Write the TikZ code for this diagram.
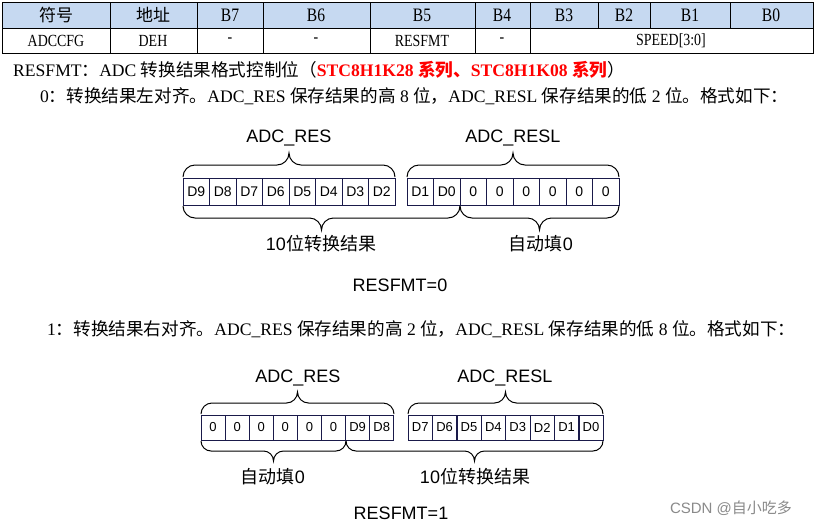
\documentclass[tikz,border=0pt]{standalone}
\usepackage{fontspec}
\setmainfont{Liberation Serif}
\newfontfamily\cjk{Noto Sans CJK SC}
\newfontfamily\arial{Liberation Sans}
\newfontfamily\tabfont[FakeStretch=0.82]{Liberation Serif}
\definecolor{hdr}{HTML}{C6D9F1}
\definecolor{cellline}{HTML}{1A1A4A}
\definecolor{wm}{HTML}{8A8A8A}
\newcommand\bracedraw[5]{% x0, x1, yend, r, sign (+1 down, -1 up)
  \draw[bracestyle] (#1,#3)
    .. controls (#1,{#3+0.55*#5*#4}) and ({#1+0.45*#4},{#3+#5*#4}) .. ({#1+#4},{#3+#5*#4})
    -- ({(#1+#2)/2-#4},{#3+#5*#4})
    .. controls ({(#1+#2)/2-0.45*#4},{#3+#5*#4}) and ({(#1+#2)/2},{#3+1.45*#5*#4}) .. ({(#1+#2)/2},{#3+2*#5*#4})
    .. controls ({(#1+#2)/2},{#3+1.45*#5*#4}) and ({(#1+#2)/2+0.45*#4},{#3+#5*#4}) .. ({(#1+#2)/2+#4},{#3+#5*#4})
    -- ({#2-#4},{#3+#5*#4})
    .. controls ({#2-0.45*#4},{#3+#5*#4}) and (#2,{#3+0.55*#5*#4}) .. (#2,#3);}
\begin{document}
\begin{tikzpicture}[x=1pt,y=-1pt,
  tabline/.style={line width=0.9pt,black},
  hdrtext/.style={font=\tabfont\fontsize{19}{19}\selectfont,inner sep=0pt},
  rowtext/.style={font=\tabfont\fontsize{17}{17}\selectfont,inner sep=0pt},
  linetext/.style={font=\fontsize{17.6}{17.6}\selectfont,inner sep=0pt,anchor=base west},
  cellA/.style={draw=cellline,line width=0.8pt,minimum width=26.5pt,minimum height=27pt,inner sep=0pt,font=\arial\fontsize{14}{14}\selectfont},
  cellB/.style={draw=cellline,line width=0.8pt,minimum width=24.2pt,minimum height=25pt,inner sep=0pt,font=\arial\fontsize{13}{13}\selectfont},
  bigtext/.style={font=\arial\fontsize{18}{18}\selectfont,inner sep=0pt},
  bracestyle/.style={line width=1pt,black}]
\useasboundingbox (0,0) rectangle (815,528);
\fill[white] (0,0) rectangle (815,528);
% ---- table ----
\fill[hdr] (2,2) rectangle (813,28);
\draw[tabline] (2,2) rectangle (813,53);
\draw[tabline] (2,28) -- (813,28);
\foreach \x in {110,197,263,370,475,530} \draw[tabline] (\x,2) -- (\x,53);
\foreach \x in {598,650,730} \draw[tabline] (\x,2) -- (\x,28);
\node[hdrtext] (h1) at (56,15) {\cjk\fontsize{17}{17}\selectfont 符号};
\node[hdrtext] (h2) at (153,15) {\cjk\fontsize{17}{17}\selectfont 地址};
\node[hdrtext] (h3) at (230,15) {B7};
\node[hdrtext] (h4) at (316,15) {B6};
\node[hdrtext] (h5) at (422,15) {B5};
\node[hdrtext] (h6) at (502,15) {B4};
\node[hdrtext] (h7) at (564,15) {B3};
\node[hdrtext] (h8) at (624,15) {B2};
\node[hdrtext] (h9) at (690,15) {B1};
\node[hdrtext] (h10) at (771,15) {B0};
\node[rowtext] (r1) at (56,40.5) {ADCCFG};
\node[rowtext] (r2) at (153,40.5) {DEH};
\node[rowtext] (r3) at (230,40.5) {-};
\node[rowtext] (r4) at (316,40.5) {-};
\node[rowtext] (r5) at (422,40.5) {RESFMT};
\node[rowtext] (r6) at (502,40.5) {-};
\node[rowtext] (r7) at (671,40.5) {SPEED[3:0]};
% ---- text lines ----
\node[linetext] (l1) at (13,76) {RESFMT{\cjk ：}ADC {\cjk 转换结果格式控制位（}\textcolor{red}{\bfseries STC8H1K28 {\cjk\bfseries 系列、}STC8H1K08 {\cjk\bfseries 系列}}{\cjk ）}};
\node[linetext] (l2) at (40,102) {0{\cjk ：转换结果左对齐。}ADC\_RES {\cjk 保存结果的高} 8 {\cjk 位，}ADC\_RESL {\cjk 保存结果的低} 2 {\cjk 位。格式如下：}};
\node[linetext] (l3) at (47,335) {1{\cjk ：转换结果右对齐。}ADC\_RES {\cjk 保存结果的高} 2 {\cjk 位，}ADC\_RESL {\cjk 保存结果的低} 8 {\cjk 位。格式如下：}};
% ---- diagram 1 ----
\foreach \t [count=\i] in {D9,D8,D7,D6,D5,D4,D3,D2}
  \node[cellA] (pa\i) at ({183+(\i-0.5)*26.5},191.5) {\t};
\foreach \t [count=\i] in {D1,D0,0,0,0,0,0,0}
  \node[cellA] (pb\i) at ({407+(\i-0.5)*26.5},191.5) {\t};
\bracedraw{183}{395}{177}{12}{-1}
\bracedraw{407}{619}{177}{12}{-1}
\bracedraw{183}{460}{206}{12}{1}
\bracedraw{460}{619}{206}{12}{1}
\node[bigtext] (t1) at (289,138) {ADC\_RES};
\node[bigtext] (t2) at (513,138) {ADC\_RESL};
\node[bigtext] (t3) at (321,244) {10{\cjk 位转换结果}};
\node[bigtext] (t4) at (541,244) {{\cjk 自动填}0};
\node[bigtext] (t5) at (400,285) {RESFMT=0};
% ---- diagram 2 ----
\foreach \t [count=\i] in {0,0,0,0,0,0,D9,D8}
  \node[cellB] (qa\i) at ({201+(\i-0.5)*24.1},427.5) {\t};
\foreach \t [count=\i] in {D7,D6,D5,D4,D3,D2,D1,D0}
  \node[cellB] (qb\i) at ({408+(\i-0.5)*24.4},427.5) {\t};
\bracedraw{201}{394}{414}{11}{-1}
\bracedraw{408}{603}{414}{11}{-1}
\bracedraw{201}{346}{441}{10}{1}
\bracedraw{346}{603}{441}{10}{1}
\node[bigtext] (u1) at (298,378) {ADC\_RES};
\node[bigtext] (u2) at (505,378) {ADC\_RESL};
\node[bigtext] (u3) at (273,477) {{\cjk 自动填}0};
\node[bigtext] (u4) at (475,477) {10{\cjk 位转换结果}};
\node[bigtext] (u5) at (401,513) {RESFMT=1};
% ---- watermark text ----
\node[font=\arial\fontsize{15}{15}\selectfont,text=wm,inner sep=0pt] (csdn) at (731,508) {CSDN @{\cjk 自小吃多}};
\end{tikzpicture}
\end{document}
